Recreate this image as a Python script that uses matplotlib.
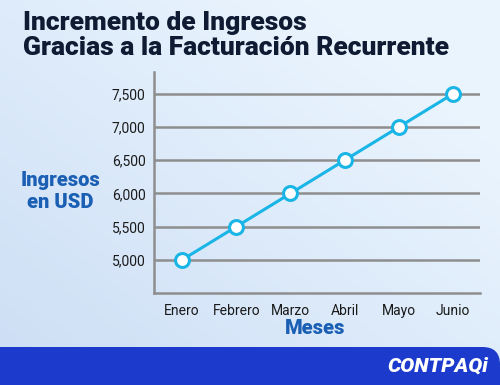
import matplotlib.pyplot as plt
import numpy as np
from matplotlib.patches import FancyBboxPatch

months = ["Enero", "Febrero", "Marzo", "Abril", "Mayo", "Junio"]
revenue = [5000, 5500, 6000, 6500, 7000, 7500]
y_ticks = [5000, 5500, 6000, 6500, 7000, 7500]

navy = "#0f1a33"
blue_label = "#1a5fb4"
cyan = "#19b5e6"
band = "#1c3acb"

plt.rcParams["font.family"] = ["Roboto", "DejaVu Sans"]

fig = plt.figure(figsize=(5.0, 3.85), dpi=100)

# gradient background
bg = fig.add_axes([0, 0, 1, 1], zorder=-10)
xx, yy = np.meshgrid(np.linspace(0, 1, 200), np.linspace(0, 1, 200))
t = np.clip(0.6 * xx + 0.6 * yy, 0, 1)
c0 = np.array([0.80, 0.87, 0.96])
c1 = np.array([0.92, 0.96, 0.995])
img = c0[None, None, :] * (1 - t[..., None]) + c1[None, None, :] * t[..., None]
bg.imshow(img, extent=[0, 1, 0, 1], origin="lower", aspect="auto")
bg.set_xlim(0, 1)
bg.set_ylim(0, 1)
bg.axis("off")

# bottom band with rounded top-right corner
bg.add_patch(FancyBboxPatch((-0.1, -0.2), 1.1, (385 - 347) / 385 + 0.2,
                            boxstyle="round,pad=0,rounding_size=0.035",
                            mutation_aspect=500 / 385,
                            facecolor=band, edgecolor="none", transform=bg.transAxes))

ax = fig.add_axes([0.308, 0.239, 0.652, 0.574])
ax.set_facecolor("none")
x = np.arange(len(months))
for v in y_ticks:
    ax.axhline(v, color="#8e8e8e", linewidth=1.8, zorder=1)
ax.plot(x, revenue, color=cyan, linewidth=2.2, marker="o", markersize=10,
        markerfacecolor="white", markeredgecolor=cyan, markeredgewidth=2.2, zorder=3)

ax.set_xlim(-0.52, 5.5)
ax.set_ylim(4500, 7830)
ax.set_xticks(x)
ax.set_xticklabels(months)
ax.set_yticks(y_ticks)
ax.set_yticklabels([f"{v:,}" for v in y_ticks])
ax.tick_params(length=0, labelsize=10, colors="#1a1a1a")
ax.tick_params(axis="y", pad=6)
ax.tick_params(axis="x", pad=8)
for s in ["top", "right"]:
    ax.spines[s].set_visible(False)
for s in ["left", "bottom"]:
    ax.spines[s].set_color("#8e8e8e")
    ax.spines[s].set_linewidth(1.8)

fig.text(23 / 500, 1 - 23 / 385, "Incremento de Ingresos", fontsize=19,
         fontweight="black", color=navy, va="center", ha="left")
fig.text(23 / 500, 1 - 48 / 385, "Gracias a la Facturación Recurrente", fontsize=19,
         fontweight="black", color=navy, va="center", ha="left")

fig.text(60 / 500, 1 - 191 / 385, "Ingresos\nen USD", fontsize=14.5, fontweight="black",
         color=blue_label, ha="center", va="center", linespacing=1.2)
fig.text(315 / 500, 1 - 329 / 385, "Meses", fontsize=14.5, fontweight="black",
         color=blue_label, ha="center", va="center")

fig.text(488 / 500, 1 - 366 / 385, "CONTPAQi", fontsize=15, fontweight="black",
         fontstyle="italic", color="white", ha="right", va="center")

fig.savefig("out.png", dpi=100)
